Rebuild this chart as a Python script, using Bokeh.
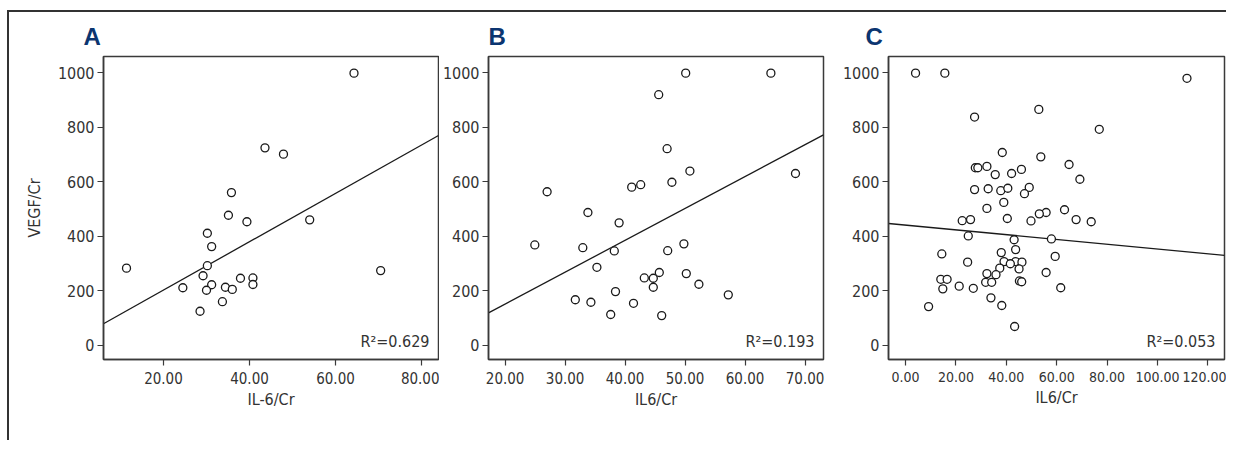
from bokeh.plotting import figure
from bokeh.layouts import row
from bokeh.models import FixedTicker, PrintfTickFormatter, Label, Range1d
from bokeh.embed import file_html
from bokeh.resources import INLINE

# ---- data ----
a_x = [64.3, 43.6, 47.9, 35.8, 35.1, 39.4, 54.0, 30.2, 31.2, 11.4, 30.2, 70.5, 29.2, 37.9,
       40.8, 24.5, 31.2, 34.4, 36.0, 40.8, 30.0, 33.7, 28.5]
a_y = [998, 724, 701, 560, 477, 453, 460, 411, 362, 283, 292, 274, 255, 246,
       247, 211, 222, 213, 205, 223, 202, 160, 125]
a_fit = [25.4, 8.86]          # intercept, slope
a_r2 = "0.629"

b_x = [50.1, 64.3, 45.6, 47.0, 50.8, 68.4, 47.8, 41.1, 42.6, 27.0, 33.8, 39.0, 24.95, 32.95,
       38.2, 49.8, 47.1, 35.3, 45.7, 50.2, 43.2, 44.7, 52.3, 44.7, 38.4, 57.2, 31.7, 34.3,
       41.4, 37.6, 46.1]
b_y = [998, 998, 919, 721, 639, 630, 598, 580, 589, 563, 487, 449, 368, 358,
       346, 372, 347, 286, 267, 263, 247, 246, 224, 213, 197, 185, 167, 158,
       154, 113, 109]
b_fit = [-82.5, 11.69]
b_r2 = "0.193"

c_x = [3.98, 15.6, 111.7, 52.9, 27.4, 76.9, 38.4, 53.7, 64.9, 27.7, 28.7, 32.3, 46.0, 35.6,
       42.1, 69.2, 27.4, 32.8, 37.8, 40.6, 49.1, 47.2, 39.0, 32.3, 63.1, 55.8, 53.1, 22.5,
       25.8, 40.4, 49.8, 67.7, 73.7, 24.9, 43.1, 57.9, 14.4, 43.7, 38.0, 59.4, 24.65, 39.1,
       43.7, 46.2, 41.6, 37.4, 45.05, 55.8, 32.3, 35.9, 14.0, 16.5, 31.8, 34.2, 45.2, 46.1,
       14.8, 21.3, 26.9, 61.6, 33.9, 9.15, 38.2, 43.3]
c_y = [998, 998, 979, 865, 837, 792, 707, 691, 663, 651, 651, 656, 645, 626,
       630, 609, 571, 574, 567, 576, 579, 556, 524, 502, 497, 487, 482, 457,
       461, 465, 456, 461, 453, 401, 387, 390, 335, 351, 340, 326, 305, 307,
       307, 305, 299, 283, 280, 267, 263, 259, 242, 242, 231, 231, 236, 233,
       207, 217, 209, 211, 174, 142, 146, 69]
c_fit = [440.7, -0.874]
c_r2 = "0.053"

y_ticks = [0, 200, 400, 600, 800, 1000]
a_ticks = [20, 40, 60, 80]
b_ticks = [20, 30, 40, 50, 60, 70]
c_ticks = [0, 20, 40, 60, 80, 100, 120]

FONT = "'DejaVu Sans Condensed', 'Liberation Sans', sans-serif"
TXT = "#333333"
LINE = "#3a3a3a"


def panel(letter, xs, ys, fit, r2, xlabel, xticks, xr, width, bl, br, title_off,
          ylabel=None, xtick_size="15px"):
    p = figure(width=width, height=428, x_range=Range1d(*xr), y_range=Range1d(-52, 1059),
               output_backend="svg", toolbar_location=None,
               min_border_left=bl, min_border_right=br, min_border_top=44, min_border_bottom=81)
    p.title.text = letter
    p.title.align = "left"
    p.title.offset = title_off
    p.title.text_font = "Liberation Sans"
    p.title.text_font_size = "24px"
    p.title.text_font_style = "bold"
    p.title.text_color = "#0b3570"
    p.title.standoff = 14
    p.xgrid.visible = False
    p.ygrid.visible = False
    p.outline_line_color = LINE
    p.outline_line_width = 1.5
    p.outline_line_alpha = 1
    for ax in (p.xaxis[0], p.yaxis[0]):
        ax.axis_line_color = LINE
        ax.axis_line_width = 1.5
        ax.major_tick_line_color = LINE
        ax.major_tick_line_width = 1.2
        ax.major_tick_in = 0
        ax.major_tick_out = 6
        ax.minor_tick_line_color = None
        ax.major_label_text_font = FONT
        ax.major_label_text_font_size = "16px"
        ax.major_label_text_color = TXT
        ax.axis_label_text_font = FONT
        ax.axis_label_text_font_size = "16px"
        ax.axis_label_text_font_style = "normal"
        ax.axis_label_text_color = TXT
    p.xaxis.ticker = FixedTicker(ticks=xticks)
    p.xaxis.formatter = PrintfTickFormatter(format="%.2f")
    p.xaxis.major_label_text_font_size = xtick_size
    p.xaxis.axis_label = xlabel
    p.xaxis.major_label_standoff = 6
    p.xaxis.axis_label_standoff = 3
    p.yaxis.ticker = FixedTicker(ticks=y_ticks)
    p.yaxis.major_label_standoff = 3
    if ylabel:
        p.yaxis.axis_label = ylabel
        p.yaxis.axis_label_standoff = 11

    x0, x1 = xr
    p.line([x0, x1], [fit[0] + fit[1] * x0, fit[0] + fit[1] * x1], line_color="#1a1a1a", line_width=1.3)
    p.scatter(xs, ys, marker="circle", size=8, fill_color="white", line_color="#1a1a1a", line_width=1.3)
    p.add_layout(Label(x=x1, y=-52, x_offset=-9, y_offset=9, text="R\u00b2=" + r2,
                       text_align="right", text_baseline="bottom",
                       text_font=FONT, text_font_size="16px", text_color=TXT))
    return p


pa = panel("A", a_x, a_y, a_fit, a_r2, "IL-6/Cr", a_ticks, (6.05, 83.95), 430, 94, 1, -20, ylabel="VEGF/Cr")
pb = panel("B", b_x, b_y, b_fit, b_r2, "IL6/Cr", b_ticks, (17.23, 73.07), 400, 49, 16, 0)
pc = panel("C", c_x, c_y, c_fit, c_r2, "IL6/Cr", c_ticks, (-6.76, 126.6), 387, 49, 2, -23, xtick_size="14px")

layout = row(pa, pb, pc, styles={"border-top": "2px solid #333333",
                                 "border-left": "2px solid #333333",
                                 "margin-top": "10px", "margin-left": "7px"})

open("out.html", "w").write(file_html(layout, INLINE))
